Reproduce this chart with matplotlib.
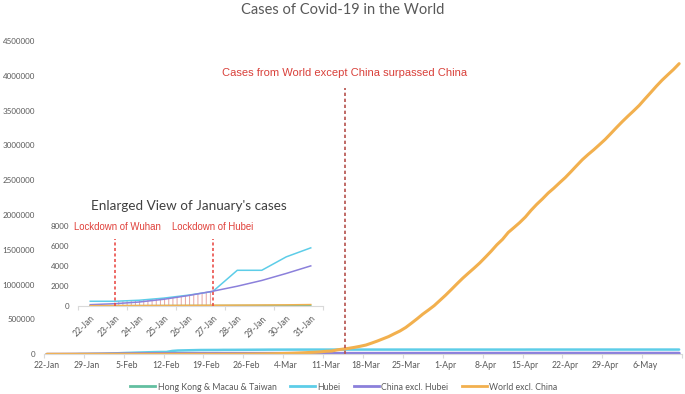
import numpy as np
import pandas as pd
import matplotlib
matplotlib.use("Agg")
import matplotlib.pyplot as plt
from matplotlib.lines import Line2D

# ---------------- data ----------------
dates = pd.date_range("2020-01-22", "2020-05-12", freq="D")
date_labels = [f"{d.day}-{d.strftime('%b')}" for d in dates]

hubei = [444, 444, 549, 761, 1058, 1423, 3554, 3554, 4903, 5806,
         7153, 11177, 13522, 16678, 19665, 22112, 24953, 27100, 29631, 31728,
         33366, 33366, 48206, 54406, 56249, 58182, 59989, 61682, 62031, 62442,
         62662, 64084, 64084, 64287, 64786, 65187, 65596, 65914, 66337, 66907,
         67103, 67217, 67332, 67466, 67592, 67666, 67707, 67743, 67760, 67773,
         67781, 67786, 67790, 67794, 67798, 67799, 67800, 67800, 67800, 67800,
         67800, 67801, 67801, 67801, 67801, 67801, 67801, 67801, 67802, 67802,
         67802, 67802, 67802, 67803, 67803, 67803, 67803, 67803, 67803, 67803,
         67803, 67803, 67803, 67803, 67803, 68128, 68128, 68128, 68128, 68128,
         68128, 68128, 68128, 68128, 68128, 68128, 68128, 68128, 68128, 68128,
         68128, 68128, 68128, 68128, 68128, 68128, 68128, 68128, 68128, 68128,
         68128, 68128]

china_excl_hubei = [104, 199, 371, 645, 1017, 1454, 1955, 2533, 3238, 3996,
                    4738, 5453, 6194, 7029, 7775, 8475, 9157, 9714, 10198, 10626,
                    11020, 11393, 11689, 11952, 12164, 12331, 12445, 12529, 12588, 12635,
                    12888, 12917, 12938, 12954, 12968, 12979, 13004, 13014, 13019, 13025,
                    13030, 13035, 13041, 13046, 13050, 13060, 13071, 13083, 13094, 13105,
                    13118, 13132, 13146, 13162, 13183, 13212, 13249, 13290, 13340, 13398,
                    13451, 13500, 13556, 13614, 13669, 13719, 13768, 13815, 13866, 13921,
                    13977, 14028, 14079, 14131, 14178, 14233, 14300, 14380, 14463, 14546,
                    14620, 14690, 14756, 14808, 14849, 14878, 14900, 14917, 14930, 14941,
                    14950, 14957, 14964, 14970, 14975, 14980, 14985, 14990, 14994, 14998,
                    15001, 15004, 15007, 15010, 15013, 15016, 15019, 15022, 15026, 15030,
                    15035, 15040]

hk_macau_taiwan = [2, 5, 8, 13, 18, 21, 24, 26, 27, 30,
                   33, 36, 38, 40, 44, 51, 57, 60, 64, 66,
                   69, 72, 76, 78, 81, 84, 88, 92, 96, 100,
                   106, 110, 113, 117, 122, 126, 131, 137, 141, 145,
                   150, 155, 159, 163, 170, 176, 183, 186, 193, 196,
                   199, 203, 207, 213, 225, 245, 274, 312, 373, 446,
                   520, 600, 670, 735, 790, 850, 905, 960, 1000, 1043,
                   1090, 1150, 1195, 1240, 1270, 1300, 1320, 1345, 1370, 1390,
                   1400, 1410, 1420, 1430, 1440, 1452, 1462, 1470, 1478, 1484,
                   1490, 1494, 1497, 1500, 1503, 1505, 1507, 1509, 1511, 1513,
                   1515, 1517, 1519, 1521, 1523, 1525, 1526, 1527, 1528, 1529,
                   1530, 1532]

world_excl_china = [5, 9, 15, 24, 33, 43, 58, 71, 85, 113,
                    125, 139, 148, 164, 179, 200, 251, 264, 306, 311,
                    374, 392, 417, 424, 433, 491, 510, 549, 597, 679,
                    832, 1136, 1512, 1960, 2368, 2898, 3570, 4513, 5560, 6790,
                    8460, 10350, 12550, 14820, 18260, 21740, 25770, 29570, 34800, 43300,
                    46600, 64300, 74900, 86000, 99600, 115100, 132700, 160500, 189900, 222200,
                    254500, 295700, 335400, 384900, 446700, 510300, 577600, 637000, 699100, 774100,
                    849200, 929900, 1012300, 1092300, 1165900, 1237600, 1312500, 1395700, 1481100, 1573200,
                    1651300, 1750300, 1820300, 1891600, 1971400, 2067700, 2154100, 2231700, 2315300, 2386100,
                    2463100, 2537800, 2622100, 2709400, 2794700, 2868600, 2937200, 3010700, 3085700, 3170300,
                    3257100, 3340600, 3420000, 3496300, 3575900, 3668500, 3758800, 3851100, 3937000, 4014600,
                    4090400, 4174600]

series_names = ["Hong Kong & Macau & Taiwan", "Hubei", "China excl. Hubei", "World excl. China"]
series_values = [hk_macau_taiwan, hubei, china_excl_hubei, world_excl_china]
series_colors = ["#62BFA0", "#5DCDE8", "#8B80DB", "#F2B04E"]
series_widths = [1.8, 1.8, 2.2, 2.2]

main_yticks = [0, 500000, 1000000, 1500000, 2000000, 2500000, 3000000, 3500000, 4000000, 4500000]
inset_yticks = [0, 2000, 4000, 6000, 8000]
inset_days = 10

surpass_day = 52.3          # 14/15-Mar
surpass_text = "Cases from World except China surpassed China"
lockdown_days = [1, 5]      # 23-Jan, 27-Jan
lockdown_texts = ["Lockdown of Wuhan", "Lockdown of Hubei"]

# ---------------- figure ----------------
W, H = 685, 394
fig = plt.figure(figsize=(W / 100, H / 100), dpi=100)
calibri = ["Lato", "DejaVu Sans"]
arial = ["Liberation Sans", "DejaVu Sans"]
grey = "#595959"
spine_c = "#D9D9D9"
plt.rcParams["hatch.linewidth"] = 0.7

def fx(px):
    return px / W

def fy(py):
    return 1 - py / H

x = np.arange(len(dates))

# main axes
ax = fig.add_axes([fx(44), fy(354.3), fx(638), (354.3 - 41) / H])
for name, vals, c, lw in zip(series_names, series_values, series_colors, series_widths):
    ax.plot(x, vals, color=c, lw=lw, solid_capstyle="round", label=name)
ax.set_xlim(-0.5, len(dates) - 0.5)
ax.set_ylim(0, 4500000)
ax.set_yticks(main_yticks)
ax.set_yticklabels([str(v) for v in main_yticks], fontfamily=calibri, fontsize=5.8, color=grey)
ax.set_xticks(x[::7])
ax.set_xticklabels(date_labels[::7], fontfamily=calibri, fontsize=6.2, color=grey)
ax.set_xticks(np.arange(-0.5, len(dates), 7), minor=True)
ax.tick_params(axis="x", which="major", length=0, pad=5)
ax.tick_params(axis="x", which="minor", length=3, color=spine_c, width=0.8)
ax.tick_params(axis="y", length=0, pad=6.5)
for s in ["top", "right", "left"]:
    ax.spines[s].set_visible(False)
ax.spines["bottom"].set_color(spine_c)
ax.spines["bottom"].set_linewidth(0.8)
ax.set_facecolor("none")

ax.plot([surpass_day, surpass_day], [0, 3830000], color="#B5504C", lw=1.2,
        dashes=(2.0, 1.6))
ax.text(surpass_day, 4040000, surpass_text, ha="center", va="center",
        fontfamily=arial, fontsize=8.05, color="#D9403A")

fig.text(0.5, fy(10.5), "Cases of Covid-19 in the World", ha="center", va="center",
         fontfamily=calibri, fontsize=10.5, color=grey)

# inset axes
ins = fig.add_axes([fx(78), fy(305.7), fx(245), (305.7 - 226) / H])
ins.set_facecolor("none")
xi = np.arange(inset_days)
for name, vals, c in zip(series_names, series_values, series_colors):
    ins.plot(xi, vals[:inset_days], color=c, lw=1.1)
ins.set_xlim(-0.5, inset_days - 0.5)
ins.set_ylim(0, 8000)
ins.set_yticks(inset_yticks)
ins.set_yticklabels([str(v) for v in inset_yticks], fontfamily=calibri, fontsize=5.8, color=grey)
ins.set_xticks(xi)
ins.set_xticklabels(date_labels[:inset_days], fontfamily=calibri, fontsize=6.2, color=grey,
                    rotation=45, ha="right", rotation_mode="anchor")
ins.set_xticks(np.arange(-0.5, inset_days, 2), minor=True)
ins.tick_params(axis="x", which="major", length=0, pad=6)
ins.tick_params(axis="x", which="minor", length=3, color=spine_c, width=0.8)
ins.tick_params(axis="y", length=0, pad=6.5)
for s in ["top", "right", "left"]:
    ins.spines[s].set_visible(False)
ins.spines["bottom"].set_color(spine_c)
ins.spines["bottom"].set_linewidth(0.8)

seg = slice(lockdown_days[0], lockdown_days[1] + 1)
top = np.maximum(np.array(hubei[seg]), np.array(china_excl_hubei[seg]))
ins.fill_between(xi[seg], 0, top, facecolor="none", edgecolor="#E6A3A3",
                 hatch="||||", linewidth=0)
text_offsets = [2.0, 0.0]
for d, t, off in zip(lockdown_days, lockdown_texts, text_offsets):
    ins.plot([d, d], [0, 6670], color="#E8413C", lw=1.1, dashes=(2.0, 1.6))
    ins.annotate(t, xy=(d, 7900), xytext=(off, 0), textcoords="offset points",
                 ha="center", va="center", fontfamily=arial,
                 fontsize=6.9, color="#E0403A")

fig.text(fx(189), fy(206), "Enlarged View of January's cases", ha="center", va="center",
         fontfamily=calibri, fontsize=9.7, color="#404040")

# legend
handles = [Line2D([0], [0], color=c, lw=2) for c in series_colors]
fig.legend(handles, series_names, loc="center", bbox_to_anchor=(fx(344), fy(387)),
           ncol=4, frameon=False, prop={"family": calibri, "size": 6.35},
           handlelength=2.84, handletextpad=0.25, columnspacing=1.55, labelcolor=grey)

fig.savefig("out.png", dpi=100)
